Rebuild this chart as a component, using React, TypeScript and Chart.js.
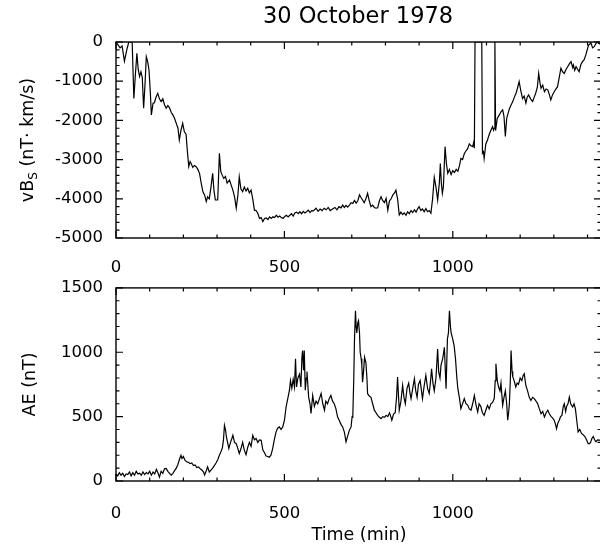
import React, { useEffect, useRef } from "react";
import { Chart, registerables } from "chart.js";
Chart.register(...registerables);

const FONT = "'DejaVu Sans', sans-serif";

const titleText = "30 October 1978";
const xTickValues = [0, 500, 1000];
const vbsTickValues = [-5000, -4000, -3000, -2000, -1000, 0];
const aeTickValues = [0, 500, 1000, 1500];

const vbsTime = [
  0, 5, 12, 18, 25, 32, 38, 48, 53, 57, 62, 66, 70, 74, 78, 82, 86, 90, 94, 98,
  102, 105, 110, 114, 119, 124, 129, 134, 139, 144, 149, 154, 159, 164, 169, 174, 179, 184, 188, 193,
  198, 203, 208, 212, 216, 220, 223, 228, 233, 238, 243, 248, 253, 258, 263, 268, 272, 277, 282, 287,
  291, 295, 302, 307, 311, 315, 320, 325, 330, 337, 342, 347, 352, 357, 362, 366, 371, 376, 381, 386,
  391, 396, 401, 406, 411, 416, 421, 426, 431, 436, 441, 446, 451, 456, 461, 466, 471, 476, 481, 486,
  491, 496, 501, 506, 511, 516, 521, 526, 531, 536, 541, 546, 551, 556, 561, 566, 571, 576, 581, 586,
  594, 600, 606, 612, 618, 624, 630, 636, 643, 650, 656, 662, 668, 673, 678, 683, 688, 693, 698, 703,
  708, 713, 718, 723, 727, 732, 737, 742, 747, 752, 757, 762, 767, 772, 777, 782, 787, 792, 797, 802,
  807, 812, 817, 822, 827, 831, 836, 841, 846, 851, 856, 861, 866, 871, 876, 881, 886, 891, 896, 900,
  905, 910, 915, 920, 925, 930, 935, 940, 945, 950, 955, 960, 963, 966, 969, 972, 977, 981, 985, 990,
  995, 1000, 1005, 1010, 1015, 1020, 1024, 1029, 1034, 1039, 1044, 1049, 1054, 1059, 1062, 1064, 1066, 1086, 1088, 1091,
  1093, 1098, 1103, 1108, 1113, 1118, 1121, 1123, 1125, 1127, 1132, 1138, 1143, 1148, 1152, 1156, 1160, 1163, 1168, 1173,
  1178, 1183, 1188, 1192, 1197, 1202, 1207, 1212, 1217, 1221, 1225, 1231, 1237, 1242, 1246, 1251, 1255, 1259, 1262, 1267,
  1272, 1277, 1282, 1287, 1291, 1296, 1301, 1306, 1311, 1316, 1321, 1326, 1331, 1336, 1341, 1346, 1351, 1356, 1358, 1362,
  1366, 1370, 1375, 1380, 1385, 1390, 1395, 1399, 1403, 1407, 1410, 1415, 1420, 1425, 1429, 1435, 1440,
];
const vbsValue = [
  0, -60, -150, -100, -490, -200, 0, 0, -1440, -900, -290, -700, -880, -760, -900, -1690, -1100, -375, -500, -715,
  -1300, -1860, -1560, -1550, -1400, -1310, -1450, -1520, -1450, -1600, -1690, -1620, -1680, -1800, -1860, -1950, -2075, -2200, -2500, -2250,
  -2075, -2290, -2350, -2800, -3180, -3050, -3100, -3200, -3150, -3180, -3250, -3350, -3600, -3820, -3900, -4070, -3950, -4000, -3700, -3350,
  -3800, -4030, -4030, -2840, -3300, -3390, -3480, -3430, -3600, -3520, -3650, -3780, -3950, -4240, -3900, -3440, -3750, -3820, -3700, -3800,
  -3730, -3850, -3780, -4000, -4290, -4300, -4370, -4500, -4480, -4580, -4500, -4490, -4530, -4460, -4500, -4460, -4480, -4420, -4470, -4440,
  -4480, -4500, -4450, -4420, -4460, -4420, -4380, -4440, -4360, -4340, -4380, -4330, -4380, -4320, -4360, -4330, -4290, -4350, -4300, -4310,
  -4240, -4320, -4260, -4300, -4240, -4280, -4220, -4300, -4260, -4220, -4280, -4200, -4230, -4160, -4220, -4170, -4210, -4160, -4100, -4120,
  -4040, -4110, -4050, -3900, -3960, -4030, -4100, -4000, -3860, -4050, -4200, -4160, -4220, -4240, -4230, -4050, -3950, -4050, -4100, -3990,
  -4290, -4050, -4000, -3900, -3850, -3780, -4000, -4410, -4340, -4400, -4360, -4420, -4330, -4380, -4300, -4350, -4280, -4340, -4250, -4200,
  -4300, -4260, -4330, -4250, -4330, -4300, -4370, -4000, -3450, -3700, -4030, -3600, -3100, -3600, -3860, -3700, -2670, -3100, -3350, -3250,
  -3380, -3280, -3330, -3250, -3300, -3150, -2970, -3000, -2850, -2780, -2720, -2600, -2650, -2670, -2560, -2710, 0, 0, -2840, -2800,
  -2970, -2600, -2500, -2360, -2250, -2160, -2250, -2200, 0, -2260, -1950, -1860, -1780, -1730, -1900, -2410, -1950, -1860, -1700, -1610,
  -1520, -1400, -1300, -1180, -1010, -1250, -1440, -1380, -1560, -1400, -1350, -1450, -1520, -1400, -1310, -1150, -800, -1050, -1180, -1100,
  -1270, -1200, -1220, -1350, -1480, -1350, -1270, -1200, -1140, -900, -670, -760, -800, -700, -630, -560, -500, -650, -590, -720,
  -630, -690, -760, -580, -500, -450, -330, -200, -80, -50, -20, -150, -120, -40, 0, -50, 0,
];

const aeTime = [
  0, 5, 10, 15, 20, 25, 30, 35, 40, 45, 50, 55, 60, 65, 70, 75, 80, 85, 90, 95,
  100, 105, 110, 115, 120, 125, 129, 134, 139, 144, 149, 154, 159, 164, 169, 174, 179, 184, 188, 193,
  196, 200, 205, 210, 215, 220, 225, 230, 235, 240, 245, 250, 255, 260, 263, 268, 272, 277, 282, 287,
  292, 297, 302, 307, 312, 316, 319, 322, 325, 328, 332, 335, 340, 344, 347, 352, 357, 362, 366, 371,
  376, 381, 386, 391, 396, 401, 406, 411, 416, 421, 426, 431, 436, 441, 445, 450, 455, 460, 465, 470,
  475, 480, 485, 490, 495, 500, 505, 510, 515, 518, 522, 526, 530, 533, 536, 540, 545, 549, 552, 554,
  557, 559, 562, 565, 567, 572, 576, 579, 584, 589, 594, 599, 604, 609, 614, 619, 623, 628, 633, 638,
  643, 648, 653, 658, 663, 668, 673, 678, 683, 688, 693, 698, 701, 703, 706, 708, 711, 713, 715, 718,
  720, 723, 725, 728, 730, 732, 735, 738, 742, 745, 747, 752, 757, 762, 767, 772, 777, 782, 787, 792,
  797, 802, 807, 812, 816, 819, 824, 829, 833, 836, 839, 841, 846, 851, 855, 859, 864, 869, 873, 876,
  881, 886, 890, 894, 898, 903, 907, 910, 915, 920, 925, 930, 934, 937, 941, 945, 950, 955, 958, 962,
  965, 970, 975, 980, 984, 987, 990, 993, 995, 1000, 1004, 1008, 1012, 1015, 1020, 1024, 1029, 1034, 1039, 1044,
  1049, 1054, 1059, 1064, 1069, 1074, 1078, 1083, 1088, 1093, 1098, 1103, 1108, 1113, 1118, 1123, 1126, 1128, 1132, 1136,
  1140, 1143, 1148, 1152, 1156, 1160, 1163, 1166, 1168, 1171, 1173, 1176, 1178, 1182, 1187, 1191, 1195, 1200, 1205, 1209,
  1212, 1217, 1222, 1227, 1232, 1237, 1242, 1247, 1252, 1257, 1262, 1267, 1272, 1277, 1282, 1287, 1292, 1296, 1301, 1305,
  1308, 1312, 1316, 1320, 1324, 1328, 1331, 1335, 1338, 1342, 1346, 1350, 1356, 1360, 1364, 1368, 1372, 1377, 1382, 1387,
  1392, 1397, 1402, 1406, 1409, 1413, 1417, 1421, 1425, 1430, 1435, 1440,
];
const aeValue = [
  55, 40, 65, 45, 60, 35, 55, 50, 70, 40, 65, 45, 75, 55, 60, 45, 70, 50, 65, 55,
  75, 45, 70, 55, 90, 60, 30, 75, 60, 95, 98, 75, 60, 45, 60, 80, 100, 130, 165, 200,
  175, 190, 160, 150, 145, 135, 140, 120, 125, 105, 110, 95, 85, 70, 46, 80, 110, 70, 85, 100,
  120, 140, 165, 200, 230, 260, 317, 433, 400, 340, 290, 253, 300, 330, 355, 300, 290, 250, 214, 250,
  300, 240, 205, 260, 300, 270, 355, 320, 330, 300, 320, 317, 240, 220, 195, 190, 185, 200, 250, 320,
  380, 410, 420, 400, 420, 470, 575, 640, 705, 780, 720, 790, 730, 950, 730, 800, 830, 730, 960, 1013,
  860, 1013, 705, 800, 850, 650, 600, 525, 665, 580, 620, 600, 640, 680, 600, 550, 620, 600, 640, 665,
  620, 600, 560, 497, 470, 440, 420, 380, 305, 350, 395, 420, 500, 497, 800, 1090, 1322, 1200, 1150, 1230,
  1245, 1150, 1000, 950, 897, 768, 850, 961, 920, 800, 678, 660, 650, 600, 550, 530, 510, 495, 485, 500,
  495, 510, 500, 530, 500, 472, 520, 530, 650, 807, 650, 550, 620, 742, 650, 600, 720, 760, 680, 640,
  720, 794, 700, 650, 750, 780, 700, 640, 740, 820, 720, 680, 780, 871, 760, 700, 800, 1026, 850, 800,
  900, 950, 1039, 717, 1103, 1150, 1322, 1200, 1150, 1100, 1050, 950, 800, 717, 640, 562, 600, 640, 600, 590,
  560, 550, 600, 665, 590, 536, 600, 580, 530, 510, 550, 588, 560, 600, 610, 640, 780, 910, 780, 730,
  700, 760, 588, 650, 700, 600, 472, 540, 600, 800, 1013, 850, 810, 780, 730, 760, 750, 800, 780, 820,
  833, 740, 700, 650, 626, 650, 640, 620, 600, 560, 523, 540, 497, 530, 550, 520, 500, 490, 472, 440,
  407, 450, 472, 500, 510, 580, 600, 540, 580, 600, 652, 600, 575, 600, 560, 470, 381, 400, 370, 360,
  345, 320, 290, 290, 300, 330, 345, 320, 305, 320, 318, 310,
];

type PanelCfg = {
  yMin: number;
  yMax: number;
  yTicks: number[];
  yMajor: number;
  yMinor: number;
  xPad: number;
  draw: (ctx: CanvasRenderingContext2D, chart: any) => void;
};

function framePlugin(cfg: PanelCfg) {
  return {
    id: "frame",
    afterDraw(chart: any) {
      const ctx: CanvasRenderingContext2D = chart.ctx;
      const a = chart.chartArea;
      const xs = chart.scales.x;
      const ys = chart.scales.y;
      ctx.save();
      ctx.strokeStyle = "#000";
      ctx.lineWidth = 1.4;
      ctx.strokeRect(a.left, a.top, a.right - a.left, a.bottom - a.top);
      ctx.lineWidth = 1.2;
      ctx.beginPath();
      for (let v = 0; v <= 1440; v += 100) {
        const px = xs.getPixelForValue(v);
        const len = v % 500 === 0 ? 7 : 3.5;
        ctx.moveTo(px, a.bottom);
        ctx.lineTo(px, a.bottom - len);
        ctx.moveTo(px, a.top);
        ctx.lineTo(px, a.top + len);
      }
      for (let v = cfg.yMin; v <= cfg.yMax + 0.001; v += cfg.yMinor) {
        const py = ys.getPixelForValue(v);
        const len = Math.abs(v % cfg.yMajor) < 0.001 ? 7 : 3.5;
        ctx.moveTo(a.left, py);
        ctx.lineTo(a.left + len, py);
        ctx.moveTo(a.right, py);
        ctx.lineTo(a.right - len, py);
      }
      ctx.stroke();
      ctx.fillStyle = "#000";
      cfg.draw(ctx, chart);
      ctx.restore();
    },
  };
}

function makeChart(
  canvas: HTMLCanvasElement,
  times: number[],
  values: number[],
  cfg: PanelCfg,
  padTop: number,
  xAxisHeight: number
) {
  const data = times.map((t, i) => ({ x: t, y: values[i] }));
  return new Chart(canvas, {
    type: "line",
    data: {
      datasets: [
        {
          data,
          borderColor: "#000",
          borderWidth: 1.2,
          pointRadius: 0,
          tension: 0,
          fill: false,
        },
      ],
    },
    options: {
      animation: false,
      responsive: false,
      maintainAspectRatio: false,
      devicePixelRatio: 1,
      events: [],
      layout: { padding: { top: padTop, left: 0, right: 3, bottom: 0 } },
      plugins: {
        legend: { display: false },
        tooltip: { enabled: false },
        title: { display: false },
      },
      scales: {
        x: {
          type: "linear",
          min: 0,
          max: 1440,
          grid: { display: false, drawTicks: false },
          border: { display: false },
          ticks: {
            color: "#000",
            font: { family: FONT, size: 16.5 },
            padding: cfg.xPad,
            maxRotation: 0,
            autoSkip: false,
            callback: (v: any) => String(v),
          },
          afterBuildTicks: (s: any) => {
            s.ticks = xTickValues.map((v) => ({ value: v }));
          },
          afterFit: (s: any) => {
            s.height = xAxisHeight;
          },
        },
        y: {
          type: "linear",
          min: cfg.yMin,
          max: cfg.yMax,
          grid: { display: false, drawTicks: false },
          border: { display: false },
          ticks: {
            color: "#000",
            font: { family: FONT, size: 16.5 },
            padding: 13,
            autoSkip: false,
            callback: (v: any) => String(v),
          },
          afterBuildTicks: (s: any) => {
            s.ticks = cfg.yTicks.map((v) => ({ value: v }));
          },
          afterFit: (s: any) => {
            s.width = 116;
          },
        },
      },
    } as any,
    plugins: [framePlugin(cfg)],
  });
}

const TOP_H = 285;
const BOT_TOP = 265;
const BOT_H = 285;

export default function App() {
  const topRef = useRef<HTMLCanvasElement>(null);
  const botRef = useRef<HTMLCanvasElement>(null);

  useEffect(() => {
    const topCfg: PanelCfg = {
      yMin: -5000,
      yMax: 0,
      yTicks: vbsTickValues,
      yMajor: 1000,
      yMinor: 200,
      xPad: 20,
      draw: (ctx, chart) => {
        const a = chart.chartArea;
        ctx.font = `22.5px ${FONT}`;
        ctx.textAlign = "center";
        ctx.textBaseline = "middle";
        ctx.fillText(titleText, (a.left + 600) / 2, 17);
        // rotated y title with subscript
        const cy = (a.top + a.bottom) / 2;
        ctx.save();
        ctx.translate(33, cy);
        ctx.rotate(-Math.PI / 2);
        ctx.textAlign = "left";
        ctx.textBaseline = "alphabetic";
        const main = `17.5px ${FONT}`;
        const sub = `12px ${FONT}`;
        const p1 = "vB";
        const p2 = "S";
        const p3 = " (nT\u00b7 km/s)";
        ctx.font = main;
        const w1 = ctx.measureText(p1).width;
        const w3 = ctx.measureText(p3).width;
        ctx.font = sub;
        const w2 = ctx.measureText(p2).width;
        let x = -(w1 + w2 + w3) / 2;
        ctx.font = main;
        ctx.fillText(p1, x, 0);
        x += w1;
        ctx.font = sub;
        ctx.fillText(p2, x, 4);
        x += w2;
        ctx.font = main;
        ctx.fillText(p3, x, 0);
        ctx.restore();
      },
    };
    const botCfg: PanelCfg = {
      yMin: 0,
      yMax: 1500,
      yTicks: aeTickValues,
      yMajor: 500,
      yMinor: 100,
      xPad: 23,
      draw: (ctx, chart) => {
        const a = chart.chartArea;
        const cy = (a.top + a.bottom) / 2;
        ctx.save();
        ctx.translate(35, cy);
        ctx.rotate(-Math.PI / 2);
        ctx.font = `17.5px ${FONT}`;
        ctx.textAlign = "center";
        ctx.textBaseline = "alphabetic";
        ctx.fillText("AE (nT)", 0, 0);
        ctx.restore();
        ctx.font = `17.5px ${FONT}`;
        ctx.textAlign = "center";
        ctx.textBaseline = "middle";
        ctx.fillText("Time (min)", 359, 535 - BOT_TOP);
      },
    };
    const c1 = makeChart(topRef.current!, vbsTime, vbsValue, topCfg, 42, TOP_H - 238);
    const c2 = makeChart(botRef.current!, aeTime, aeValue, botCfg, 287 - BOT_TOP, BOT_H - (481 - BOT_TOP));
    return () => {
      c1.destroy();
      c2.destroy();
    };
  }, []);

  return (
    <div
      style={{
        position: "fixed",
        left: 0,
        top: 0,
        width: 600,
        height: 550,
        overflow: "hidden",
        background: "#fff",
      }}
    >
      <canvas
        ref={topRef}
        width={604}
        height={TOP_H}
        style={{ position: "absolute", left: 0, top: 0, width: 604, height: TOP_H }}
      />
      <canvas
        ref={botRef}
        width={604}
        height={BOT_H}
        style={{ position: "absolute", left: 0, top: BOT_TOP, width: 604, height: BOT_H }}
      />
    </div>
  );
}
